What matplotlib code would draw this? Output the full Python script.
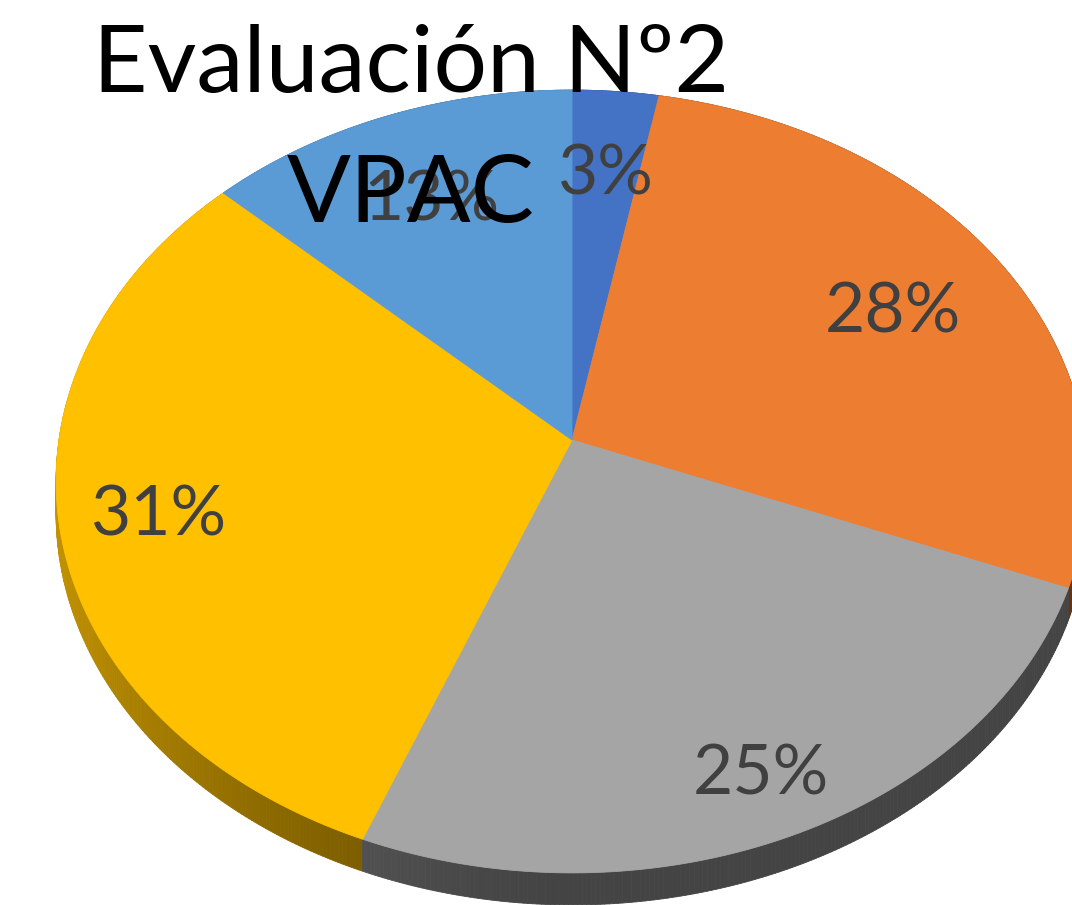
import numpy as np
import matplotlib.pyplot as plt
from matplotlib.collections import PolyCollection
from matplotlib.colors import to_rgb

# data
labels = ['3%', '28%', '25%', '31%', '13%']
values = [3, 28, 25, 31, 13]
colors = ['#4472C4', '#ED7D31', '#A5A5A5', '#FFC000', '#5B9BD5']
title_lines = ['Evaluación Nº2', 'VPAC']

# layout of the tilted pie (pixels)
cx, cy = 572, 440
rx, ry, persp = 513, 387, 0.106
depth = 32
label_r = [0.76, 0.74, 0.85, 0.81, 0.74]


def project(u, v):
    """Disk coords (v=+1 is the far edge) -> screen pixels."""
    d = 1 + persp * v
    return cx + rx * u / d, cy - ry * v / d


def shade(t):
    return 0.41 + 0.36 * np.clip(-np.cos(t), 0, None) ** 1.5


fracs = np.array(values) / sum(values)
edges = np.deg2rad(90 - 360 * np.concatenate([[0], np.cumsum(fracs)]))

fig = plt.figure(figsize=(10.72, 9.05), dpi=100)
ax = fig.add_axes([0, 0, 1, 1])
ax.set_xlim(0, 1072)
ax.set_ylim(905, 0)
ax.axis('off')

# side wall, back pieces first
quads, qcols, qdepth = [], [], []
for i, col in enumerate(colors):
    t = np.linspace(edges[i], edges[i + 1], max(4, int(values[i] * 8)))
    x, y = project(np.cos(t), np.sin(t))
    base = np.array(to_rgb(col))
    for j in range(len(t) - 1):
        tm = 0.5 * (t[j] + t[j + 1])
        quads.append([(x[j], y[j]), (x[j + 1], y[j + 1]),
                      (x[j + 1], y[j + 1] + depth), (x[j], y[j] + depth)])
        qcols.append(base * shade(tm))
        qdepth.append(np.sin(tm))
order = np.argsort(qdepth)[::-1]
side = PolyCollection([quads[k] for k in order],
                      facecolors=[qcols[k] for k in order],
                      edgecolors=[qcols[k] for k in order], linewidths=0.6)
ax.add_collection(side)

# top face
for i, col in enumerate(colors):
    t = np.linspace(edges[i], edges[i + 1], max(4, int(values[i] * 8)))
    x, y = project(np.cos(t), np.sin(t))
    ax.fill(np.r_[cx, x], np.r_[cy, y], color=col, lw=0.6, ec=col)

# data labels
for i, lab in enumerate(labels):
    tm = 0.5 * (edges[i] + edges[i + 1])
    lx, ly = project(label_r[i] * np.cos(tm), label_r[i] * np.sin(tm))
    ax.text(lx, ly, lab, ha='center', va='center_baseline', fontsize=50,
            color='#404040', family='Lato')

# title over the pie
ax.text(411, 92, title_lines[0], ha='center', va='baseline', fontsize=68,
        color='black', family='Lato')
ax.text(411, 222, title_lines[1], ha='center', va='baseline', fontsize=68,
        color='black', family='Lato')

fig.savefig('out.png', dpi=100)
